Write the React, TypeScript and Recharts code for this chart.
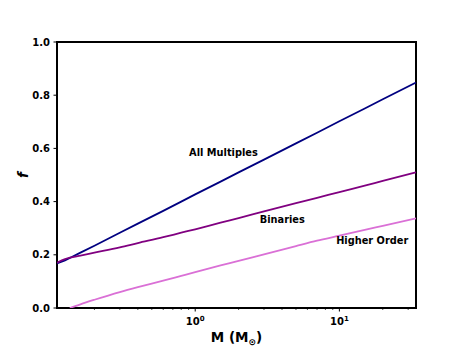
import React from 'react';
import { LineChart, Line, XAxis, YAxis, ReferenceArea, ReferenceDot } from 'recharts';

const masses = [0.11, 0.125, 0.135, 0.16, 0.2, 0.3, 0.4, 0.6, 0.8, 1, 1.5, 2, 3, 5, 7, 10, 15, 20, 34];
const allMultiples = [0.168, 0.179, 0.188, 0.208, 0.234, 0.283, 0.317, 0.365, 0.4, 0.427, 0.475, 0.51, 0.558, 0.619, 0.659, 0.702, 0.75, 0.785, 0.848];
const binaries = [0.17, 0.184, 0.189, 0.197, 0.208, 0.228, 0.244, 0.266, 0.283, 0.296, 0.321, 0.338, 0.363, 0.394, 0.414, 0.436, 0.46, 0.478, 0.51];
const higherOrder: (number | null)[] = [null, null, 0.0, 0.014, 0.031, 0.06, 0.0785, 0.103, 0.121, 0.135, 0.16, 0.177, 0.202, 0.233, 0.253, 0.272, 0.294, 0.309, 0.337];

const majorTicks = [1, 10];
const minorTicks = [0.2, 0.3, 0.4, 0.5, 0.6, 0.7, 0.8, 0.9, 2, 3, 4, 5, 6, 7, 8, 9, 20, 30];
const yTicks = [0, 0.2, 0.4, 0.6, 0.8, 1.0];
const xDomain = [0.11, 34];

const annotations = [
  { text: 'All Multiples', m: 1.57, f: 0.583 },
  { text: 'Binaries', m: 4.02, f: 0.331 },
  { text: 'Higher Order', m: 16.9, f: 0.252 },
];

const data = masses.map((m, i) => ({
  m,
  all: allMultiples[i],
  bin: binaries[i],
  hi: higherOrder[i],
}));

const FONT = 'DejaVu Sans';

const XTick = (props: any) => {
  const { x, y, payload } = props;
  const v = payload.value;
  const isMajor = majorTicks.includes(v);
  if (!isMajor) {
    return <line x1={x} x2={x} y1={y} y2={y + 2} stroke="#000" strokeWidth={0.7} />;
  }
  const exp = Math.round(Math.log10(v));
  return (
    <g>
      <line x1={x} x2={x} y1={y} y2={y + 3.5} stroke="#000" strokeWidth={1} />
      <text x={x} y={y + 17} textAnchor="middle" fontFamily={FONT} fontWeight="bold" fontSize={10} fill="#000">
        10
        <tspan dy={-4} fontSize={7}>{exp}</tspan>
      </text>
    </g>
  );
};

const YTick = (props: any) => {
  const { x, y, payload } = props;
  return (
    <g>
      <line x1={x - 3.5} x2={x} y1={y} y2={y} stroke="#000" strokeWidth={1} />
      <text x={x - 7} y={y} dy="0.36em" textAnchor="end" fontFamily={FONT} fontWeight="bold" fontSize={10} fill="#000">
        {Number(payload.value).toFixed(1)}
      </text>
    </g>
  );
};

const XLabel = (props: any) => {
  const vb = props.viewBox;
  return (
    <text x={vb.x + vb.width / 2} y={vb.y + 34} textAnchor="middle" fontFamily={FONT} fontWeight="bold" fontSize={13.5} fill="#000">
      M (M
      <tspan dy={3} fontSize={9}>⊙</tspan>
      <tspan dy={-3}>)</tspan>
    </text>
  );
};

const YLabel = (props: any) => {
  const vb = props.viewBox;
  const cx = vb.x + 6;
  const cy = vb.y + vb.height / 2;
  return (
    <text x={cx} y={cy} transform={`rotate(-90 ${cx} ${cy})`} textAnchor="middle" dy="0.35em" fontFamily={FONT} fontWeight="bold" fontStyle="italic" fontSize={13.5} fill="#000">
      f
    </text>
  );
};

const AnnLabel = (text: string) => (props: any) => {
  const vb = props.viewBox;
  return (
    <text x={vb.x + (vb.width || 0) / 2} y={vb.y + (vb.height || 0) / 2} dy="0.36em" textAnchor="middle" fontFamily={FONT} fontWeight="bold" fontSize={9.8} fill="#000">
      {text}
    </text>
  );
};

export default function App() {
  return (
    <div style={{ position: 'absolute', left: 0, top: 0, width: 463, height: 347, background: '#fff' }}>
      <LineChart width={463} height={347} data={data} margin={{ top: 42, right: 47, bottom: 9, left: 17 }}>
        <XAxis
          dataKey="m"
          type="number"
          scale="log"
          domain={xDomain}
          allowDataOverflow
          ticks={[...minorTicks, ...majorTicks].sort((a, b) => a - b)}
          interval={0}
          tick={<XTick />}
          tickSize={0}
          tickMargin={0}
          tickLine={false}
          axisLine={false}
          height={30}
          label={{ content: XLabel }}
        />
        <YAxis
          type="number"
          domain={[0, 1]}
          allowDataOverflow
          ticks={yTicks}
          interval={0}
          tick={<YTick />}
          tickSize={0}
          tickMargin={0}
          tickLine={false}
          axisLine={false}
          width={40}
          label={{ content: YLabel }}
        />
        <Line type="linear" dataKey="all" stroke="#000080" strokeWidth={1.8} dot={false} isAnimationActive={false} />
        <Line type="monotone" dataKey="bin" stroke="#800080" strokeWidth={1.8} dot={false} isAnimationActive={false} />
        <Line type="monotone" dataKey="hi" stroke="#DA70D6" strokeWidth={1.8} dot={false} isAnimationActive={false} />
        <ReferenceArea x1={xDomain[0]} x2={xDomain[1]} y1={0} y2={1} fill="none" stroke="#000" strokeWidth={2} ifOverflow="visible" />
        {annotations.map((a) => (
          <ReferenceDot key={a.text} x={a.m} y={a.f} r={0} fill="none" stroke="none" label={{ content: AnnLabel(a.text) }} />
        ))}
      </LineChart>
    </div>
  );
}
